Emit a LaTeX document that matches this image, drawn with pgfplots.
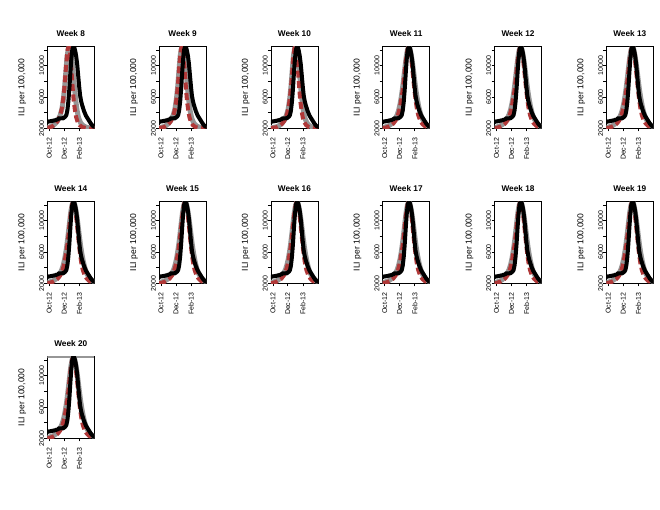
\documentclass[border=0pt]{standalone}
\usepackage{pgfplots}
\usepackage{pgfplotstable}
\pgfplotsset{compat=1.18}
\usepackage{fontspec}
\setmainfont{Liberation Sans}
\definecolor{fcred}{RGB}{176,56,56}
\definecolor{fcgray}{RGB}{150,150,150}

\pgfplotstableread{
x y
-7 2800
-2 2900
2 2850
6 2950
10 2880
14 3000
18 2950
22 3050
26 3000
30 3150
34 3080
38 3250
42 3300
46 3200
50 3350
54 3250
58 3300
62 3400
66 3500
70 3700
74 4300
78 5400
82 7000
86 9000
90 10800
94 12000
98 12420
102 12350
106 11900
110 11200
114 10200
118 8800
122 7400
126 6200
130 5500
134 5000
138 4600
142 4200
146 3900
150 3600
154 3400
158 3200
162 3000
166 2800
170 2600
174 2450
178 2300
182 2200
}\obs

\pgfplotstableread{
x y
-8 2050
5 2150
15 2300
25 2550
35 2950
45 3700
52 4600
58 6000
63 7600
68 9700
72 11200
76 12200
80 12420
84 11900
88 10500
92 8800
96 7000
100 5500
105 4300
110 3400
116 2800
124 2400
135 2150
150 2050
165 2000
184 1980
}\redA

\pgfplotstableread{
x y
-8 2100
5 2200
15 2350
25 2600
35 3000
45 3700
52 4500
58 5800
63 7300
68 9300
73 11200
78 12200
83 12420
88 12000
93 10800
98 9000
103 7200
108 5600
114 4200
120 3300
128 2700
138 2350
150 2150
165 2050
184 2000
}\grayA

\pgfplotstableread{
x y
-8 2030
11 2150
21 2300
31 2550
41 2950
51 3700
58 4600
64 6000
69 7600
74 9700
78 11200
82 12200
86 12420
90 11900
94 10500
98 8800
102 7000
106 5500
111 4300
116 3400
122 2800
130 2400
141 2150
156 2050
171 2000
184 1990
}\redB

\pgfplotstableread{
x y
-8 2080
10 2200
20 2350
30 2600
40 3000
50 3700
57 4500
63 5800
68 7300
73 9300
78 11200
83 12200
88 12420
93 12000
98 10800
103 9000
108 7200
113 5600
119 4200
125 3300
133 2700
143 2350
155 2150
170 2050
184 2010
}\grayB

\pgfplotstableread{
x y
-8 2020
17 2150
27 2300
37 2550
47 2950
57 3700
64 4600
70 6000
75 7600
80 9700
84 11200
88 12200
92 12420
96 11900
100 10500
104 8800
108 7000
112 5500
117 4300
122 3400
128 2800
136 2400
147 2150
162 2050
177 2000
184 1995
}\redC

\pgfplotstableread{
x y
-8 2060
16 2200
26 2350
36 2600
46 3000
56 3700
63 4500
69 5800
74 7300
79 9300
84 11200
89 12200
94 12420
99 12000
104 10800
109 9000
114 7200
119 5600
125 4200
131 3300
139 2700
149 2350
161 2150
176 2050
184 2030
}\grayC

\pgfplotstableread{
x y
-8 2000
5 2100
15 2200
25 2350
35 2600
45 3000
52 3500
58 4100
63 4800
68 5700
74 6900
78 8000
82 9200
86 10400
90 11400
94 12100
98 12420
102 12200
106 11500
110 10500
114 9300
118 8000
122 6800
126 5700
131 4600
137 3700
145 3000
153 2600
163 2300
174 2150
184 2080
}\redD

\pgfplotstableread{
x y
-8 2100
5 2200
15 2300
25 2500
35 2800
45 3300
52 3800
58 4400
63 5100
68 6000
73 7100
78 8400
83 9800
88 11100
93 12000
98 12420
103 12200
108 11500
113 10500
118 9300
123 8000
128 6800
133 5800
139 4800
146 3900
154 3200
164 2700
174 2400
184 2200
}\grayD

\pgfplotsset{
  panel/.style={
    scale only axis, width=47bp, height=81.6bp,
    anchor=north west,
    xmin=-8, xmax=184, ymin=2000, ymax=12420,
    scaled x ticks=false, scaled y ticks=false,
    axis line style={line width=0.6bp},
    every tick/.style={line width=0.6bp, black},
    tick align=outside, tick pos=left,
    major tick length=3bp, minor tick length=3bp,
    xtick={0,61,123}, xticklabels={Oct-12,Dec-12,Feb-13},
    ytick={2000,6000,10000}, yticklabels={2000,6000,10000},
    minor ytick={4000,8000,12000},
    /pgf/number format/assume math mode=true,
    x tick label style={yshift=-6bp, rotate=90, anchor=east, inner sep=0pt, font=\fontsize{7}{8}\selectfont},
    y tick label style={rotate=90, anchor=south, inner sep=0pt, font=\fontsize{7}{8}\selectfont},
    every axis title shift=0pt,
    title style={at={(axis description cs:0.5,1)}, anchor=base, yshift=10.5bp, inner sep=0pt, font=\bfseries\fontsize{8.3}{9}\selectfont},
    ylabel={ILI per 100,000},
    every axis y label/.style={at={(axis description cs:-0.489,0.5)}, rotate=90, anchor=base, inner sep=0pt, font=\fontsize{8.6}{9}\selectfont},
    clip=true,
  },
  obsline/.style={black, line width=4bp, line join=round, line cap=round},
  grayline/.style={fcgray, line width=5bp, line join=round, line cap=round},
  redline/.style={fcred, line width=4bp, line join=round, line cap=butt, dash pattern=on 7bp off 3.5bp},
}

\newcommand\panel[5]{%
  \begin{axis}[panel, at={(#1bp,-#2bp)}, title={Week #3}]
    \addplot[grayline] table[x=x,y=y] {#5};
    \addplot[redline] table[x=x,y=y] {#4};
    \addplot[obsline] table[x=x,y=y] {\obs};
  \end{axis}%
}

\begin{document}
\begin{tikzpicture}
\path[use as bounding box, fill=white] (0,0) rectangle (660bp,-510bp);
\panel{47.3}{46.7}{8}{\redA}{\grayA}
\panel{159.1}{46.7}{9}{\redB}{\grayB}
\panel{270.9}{46.7}{10}{\redC}{\grayC}
\panel{382.7}{46.7}{11}{\redD}{\grayD}
\panel{494.5}{46.7}{12}{\redD}{\grayD}
\panel{606.3}{46.7}{13}{\redD}{\grayD}
\panel{47.3}{201.7}{14}{\redD}{\grayD}
\panel{159.1}{201.7}{15}{\redD}{\grayD}
\panel{270.9}{201.7}{16}{\redD}{\grayD}
\panel{382.7}{201.7}{17}{\redD}{\grayD}
\panel{494.5}{201.7}{18}{\redD}{\grayD}
\panel{606.3}{201.7}{19}{\redD}{\grayD}
\begin{axis}[panel, at={(47.3bp,-356.7bp)}, title={Week 20}]
  \addplot[fcgray, line width=2bp] coordinates {(-8,12420) (184,12420)};
  \addplot[grayline] table[x=x,y=y] {\grayD};
  \addplot[redline] table[x=x,y=y] {\redD};
  \addplot[obsline] table[x=x,y=y] {\obs};
\end{axis}
\end{tikzpicture}
\end{document}
